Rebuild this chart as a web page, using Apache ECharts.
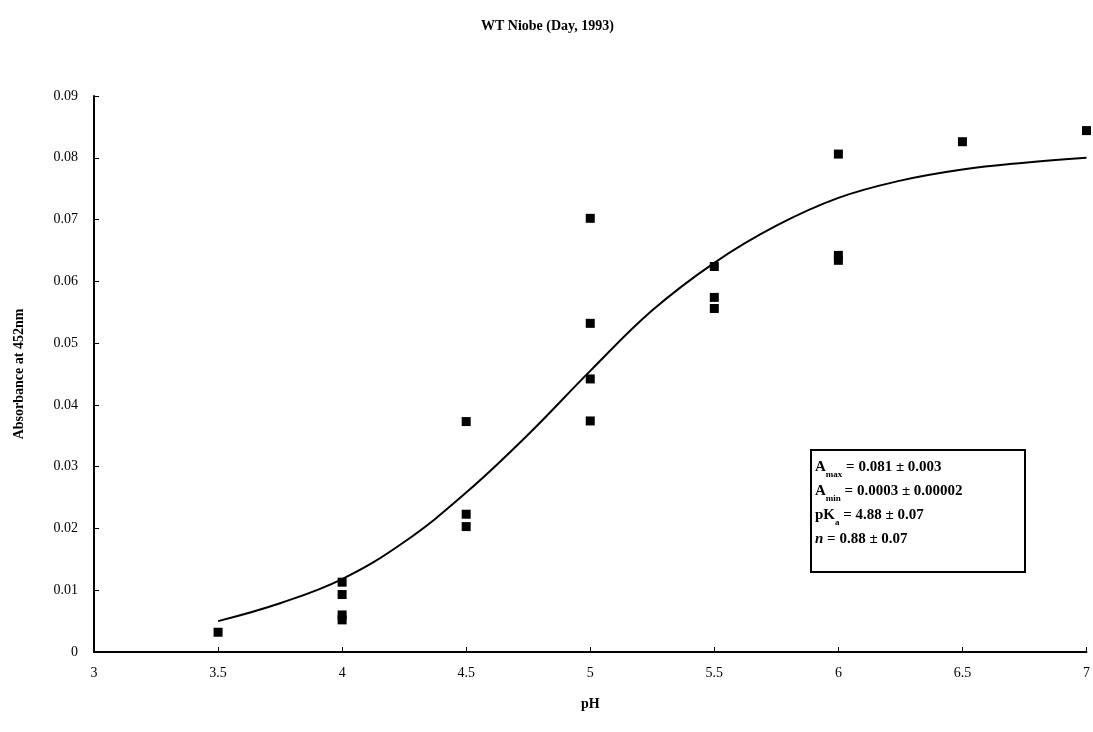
<!DOCTYPE html>
<html>
<head>
<meta charset="utf-8">
<script src="https://cdn.jsdelivr.net/npm/echarts@6/dist/echarts.min.js"></script>
<style>
  html, body { margin: 0; padding: 0; background: #fff; overflow: hidden; }
  #chart { width: 1093px; height: 732px; }
</style>
</head>
<body>
<div id="chart"></div>
<script>
// measured points (pH, absorbance)
const pointPH = [3.5, 4, 4, 4, 4, 4.5, 4.5, 4.5, 5, 5, 5, 5, 5.5, 5.5, 5.5, 6, 6, 6, 6.5, 7];
const pointAbs = [0.0032, 0.0113, 0.0093, 0.006, 0.0052, 0.0373, 0.0223, 0.0203, 0.0702, 0.0532, 0.0442, 0.0374, 0.0624, 0.0574, 0.0556, 0.0806, 0.0642, 0.0634, 0.0826, 0.0844];

// fitted curve
const curvePH = [3.5, 3.75, 4, 4.25, 4.5, 4.75, 5, 5.25, 5.5, 5.75, 6, 6.25, 6.5, 6.75, 7];
const curveAbs = [0.005, 0.0079, 0.0118, 0.0178, 0.0258, 0.0352, 0.0455, 0.0553, 0.063, 0.069, 0.0735, 0.0763, 0.0781, 0.0792, 0.08];

const xTicks = [3, 3.5, 4, 4.5, 5, 5.5, 6, 6.5, 7];
const yTicks = [0, 0.01, 0.02, 0.03, 0.04, 0.05, 0.06, 0.07, 0.08, 0.09];

const serif = "'Liberation Serif', 'DejaVu Serif', serif";

const chart = echarts.init(document.getElementById("chart"));

const option = {
  backgroundColor: "#fff",
  animation: false,
  title: {
    text: "WT Niobe (Day, 1993)",
    left: 476,
    top: 14,
    textStyle: { fontFamily: serif, fontSize: 14, fontWeight: "bold", color: "#000" },
  },
  grid: { left: 94, right: 3, top: 96, bottom: 80 },
  xAxis: {
    type: "value",
    min: xTicks[0],
    max: xTicks[xTicks.length - 1],
    interval: 0.5,
    name: "pH",
    nameLocation: "middle",
    nameGap: 45,
    nameTextStyle: { fontFamily: serif, fontSize: 14, fontWeight: "bold", color: "#000" },
    axisLine: { lineStyle: { color: "#000", width: 2 } },
    axisTick: { inside: true, length: 5, lineStyle: { color: "#000" } },
    splitLine: { show: false },
    axisLabel: {
      fontFamily: serif, fontSize: 14, color: "#000", margin: 14,
      formatter: (v) => String(v),
    },
  },
  yAxis: {
    type: "value",
    min: yTicks[0],
    max: yTicks[yTicks.length - 1],
    interval: 0.01,
    name: "Absorbance at 452nm",
    nameLocation: "middle",
    nameGap: 68,
    nameTextStyle: { fontFamily: serif, fontSize: 14, fontWeight: "bold", color: "#000" },
    axisLine: { show: true, lineStyle: { color: "#000", width: 2 } },
    axisTick: { show: true, inside: true, length: 5, lineStyle: { color: "#000" } },
    splitLine: { show: false },
    axisLabel: {
      fontFamily: serif, fontSize: 14, color: "#000", margin: 16,
      formatter: (v) => (v === 0 ? "0" : v.toFixed(2)),
    },
  },
  series: [
    {
      type: "line",
      data: curvePH.map((x, i) => [x, curveAbs[i]]),
      smooth: 0.4,
      symbol: "none",
      lineStyle: { color: "#000", width: 2 },
      z: 2,
    },
    {
      type: "scatter",
      data: pointPH.map((x, i) => [x, pointAbs[i]]),
      symbol: "rect",
      symbolSize: 9,
      itemStyle: { color: "#000", opacity: 1 },
      z: 3,
    },
  ],
  graphic: [
    {
      type: "rect",
      shape: { x: 811, y: 450, width: 214, height: 122 },
      style: { fill: "#fff", stroke: "#000", lineWidth: 2 },
      z: 10,
    },
    {
      type: "text",
      left: 815,
      top: 455,
      z: 11,
      style: {
        text: [
          "A{sub|max} = 0.081 ± 0.003",
          "A{sub|min} = 0.0003 ± 0.00002",
          "pK{sub|a} = 4.88 ± 0.07",
          "{it|n} = 0.88 ± 0.07",
        ].join("\n"),
        fontFamily: serif,
        fontSize: 15,
        fontWeight: "bold",
        fill: "#000",
        lineHeight: 24,
        rich: {
          sub: { fontFamily: serif, fontSize: 9, fontWeight: "bold", verticalAlign: "bottom", padding: [6, 0, 0, 0], lineHeight: 24 },
          it: { fontFamily: serif, fontSize: 15, fontWeight: "bold", fontStyle: "italic", lineHeight: 24 },
        },
      },
    },
  ],
};

chart.setOption(option);
</script>
</body>
</html>
